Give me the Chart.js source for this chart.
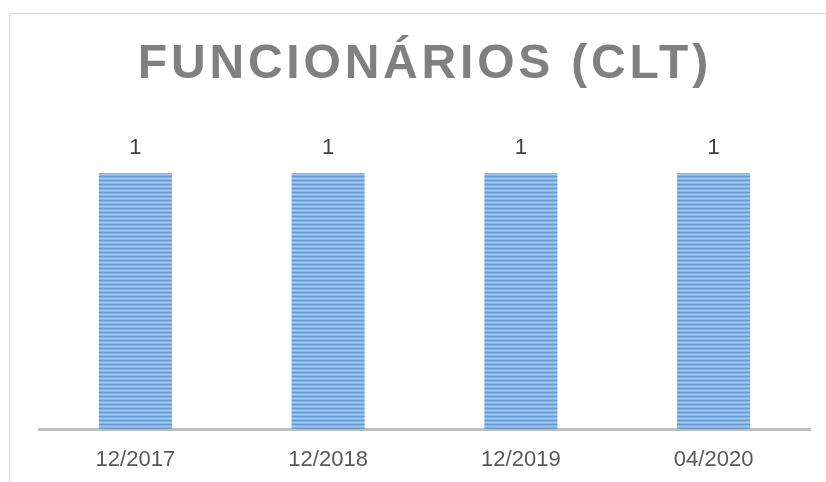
<!DOCTYPE html>
<html>
<head>
<meta charset="utf-8">
<script src="https://cdn.jsdelivr.net/npm/chart.js@4"></script>
<style>
  html, body { margin: 0; padding: 0; background: #ffffff; }
  #wrap { width: 826px; height: 482px; position: relative; }
</style>
</head>
<body>
<div id="wrap"><canvas id="grafico"></canvas></div>
<script>
const titulo = 'FUNCIONÁRIOS (CLT)';
const periodos = ['12/2017', '12/2018', '12/2019', '04/2020'];
const funcionarios = [1, 1, 1, 1];

// listras horizontais das barras
function criarListras() {
  const c = document.createElement('canvas');
  c.width = 4;
  c.height = 4;
  const g = c.getContext('2d');
  g.fillStyle = '#5e9bd9';
  g.fillRect(0, 0, 4, 4);
  g.fillStyle = '#a7c8ec';
  g.fillRect(0, 2, 4, 1);
  g.fillStyle = '#84b2e2';
  g.fillRect(0, 1, 4, 1);
  g.fillRect(0, 3, 4, 1);
  return g.createPattern(c, 'repeat');
}

const moldura = {
  id: 'moldura',
  beforeDraw(chart) {
    const ctx = chart.ctx;
    ctx.save();
    ctx.strokeStyle = '#d9d9d9';
    ctx.lineWidth = 1;
    ctx.beginPath();
    ctx.moveTo(9.5, 482);
    ctx.lineTo(9.5, 13.5);
    ctx.lineTo(826, 13.5);
    ctx.stroke();

    // titulo com espacamento entre letras
    ctx.font = 'bold 48px "Liberation Sans", Arial, sans-serif';
    ctx.letterSpacing = '3.8px';
    ctx.fillStyle = '#808080';
    ctx.textAlign = 'center';
    ctx.textBaseline = 'alphabetic';
    ctx.fillText(titulo, 423 + 1.9, 78);
    ctx.restore();
  }
};

const rotulos = {
  id: 'rotulos',
  afterDatasetsDraw(chart) {
    const ctx = chart.ctx;
    const meta = chart.getDatasetMeta(0);
    ctx.save();
    ctx.font = '22px "Liberation Sans", Arial, sans-serif';
    ctx.fillStyle = '#404040';
    ctx.textAlign = 'center';
    ctx.textBaseline = 'middle';
    meta.data.forEach((bar, i) => {
      ctx.fillText(String(funcionarios[i]), bar.x, bar.y - 25);
    });
    ctx.restore();
  }
};

const ctx = document.getElementById('grafico');

new Chart(ctx, {
  type: 'bar',
  data: {
    labels: periodos,
    datasets: [{
      label: 'Funcionários',
      data: funcionarios,
      backgroundColor: criarListras(),
      borderWidth: 0,
      categoryPercentage: 1,
      barPercentage: 0.379
    }]
  },
  options: {
    animation: false,
    responsive: true,
    maintainAspectRatio: false,
    layout: {
      padding: { top: 173, left: 39, right: 16, bottom: 0 }
    },
    plugins: {
      legend: { display: false },
      tooltip: { enabled: false }
    },
    scales: {
      y: {
        display: false,
        min: 0,
        max: 1
      },
      x: {
        grid: { display: false, drawTicks: false },
        border: { display: true, color: '#bfbfbf', width: 3 },
        afterFit(scale) { scale.height = 53; },
        ticks: {
          color: '#595959',
          padding: 18,
          font: { family: '"Liberation Sans", Arial, sans-serif', size: 22 }
        }
      }
    }
  },
  plugins: [moldura, rotulos]
});
</script>
</body>
</html>
